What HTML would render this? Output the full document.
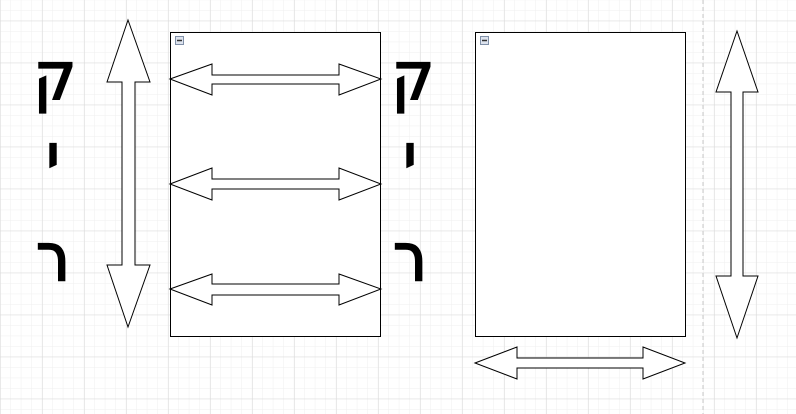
<!DOCTYPE html>
<html><head><meta charset="utf-8"><style>
html,body{margin:0;padding:0;background:#fff;}
svg{display:block;}
text{font-family:"DejaVu Sans","Liberation Sans",sans-serif;font-weight:normal;font-size:66px;fill:#000;stroke:#000;stroke-width:2.2;text-anchor:middle;}
</style></head><body>
<svg width="796" height="414" viewBox="0 0 796 414" xmlns="http://www.w3.org/2000/svg">
<defs>
<pattern id="minor" x="0.3" y="0.2" width="10.5" height="10.5" patternUnits="userSpaceOnUse">
<path d="M10.5 0V10.5M0 10.5H10.5" fill="none" stroke="#efefef" stroke-width="1"/>
</pattern>
<pattern id="major" x="0.3" y="20.7" width="42" height="42" patternUnits="userSpaceOnUse">
<path d="M0 0V42M0 0H42" fill="none" stroke="#d9d9d9" stroke-width="1"/>
</pattern>
</defs>
<rect width="796" height="414" fill="#fff"/>
<rect width="796" height="414" fill="url(#minor)"/>
<rect width="796" height="414" fill="url(#major)"/>
<line x1="703" y1="0" x2="703" y2="414" stroke="#c8c8c8" stroke-dasharray="4,3"/>

<g fill="#fff" stroke="#000" stroke-width="1">
<rect x="170.5" y="32.5" width="210" height="304"/>
<rect x="475.5" y="32.5" width="210" height="304"/>
<polygon points="128,20 150,82 135,82 135,265 150,265 128,327 107,265 122,265 122,82 107,82"/>
<polygon points="737,31 758,92 743,92 743,276 758,276 737,338 716,276 731,276 731,92 716,92"/>
<polygon points="170,79 212,64 212,75 339,75 339,64 381,79 339,95 339,84 212,84 212,95"/>
<polygon points="170,184 212,168 212,179 339,179 339,168 381,184 339,200 339,189 212,189 212,200"/>
<polygon points="170,289 212,274 212,284 339,284 339,274 381,289 339,305 339,295 212,295 212,305"/>
<polygon points="475,363 517,347 517,358 643,358 643,347 685,363 643,379 643,368 517,368 517,379"/>
</g>
<g>
<rect x="175.5" y="36.5" width="8" height="8" fill="#dde3ee" stroke="#8090a8"/>
<line x1="177" y1="40.5" x2="182" y2="40.5" stroke="#333" stroke-width="1.5"/>
<rect x="480.5" y="36.5" width="8" height="8" fill="#dde3ee" stroke="#8090a8"/>
<line x1="482" y1="40.5" x2="487" y2="40.5" stroke="#333" stroke-width="1.5"/>
</g>

<g transform="translate(55,0) scale(0.9,1)"><text x="0" y="99">ק</text></g>
<g transform="translate(53,0) scale(0.9,1)"><text x="0" y="180">י</text></g>
<g transform="translate(53,0) scale(0.9,1)"><text x="0" y="280">ר</text></g>
<g transform="translate(413,0) scale(0.9,1)"><text x="0" y="99">ק</text></g>
<g transform="translate(410,0) scale(0.9,1)"><text x="0" y="180">י</text></g>
<g transform="translate(410,0) scale(0.9,1)"><text x="0" y="280">ר</text></g>
</svg>
</body></html>
